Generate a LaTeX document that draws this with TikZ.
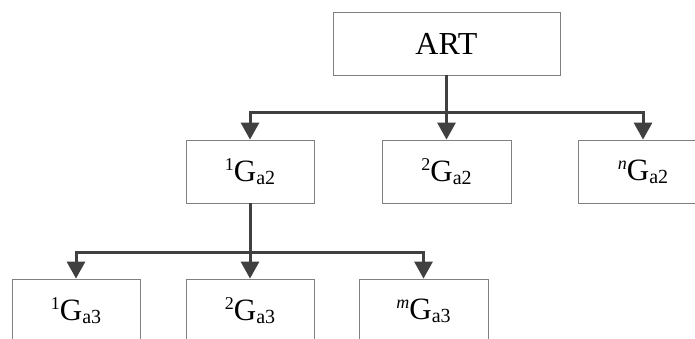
\documentclass[tikz,border=0pt]{standalone}
\usepackage{fontspec}
\setmainfont{Liberation Serif}
\usetikzlibrary{arrows.meta}
\newcommand\mysup[1]{\raisebox{11pt}{\fontsize{18}{18}\selectfont #1}}
\newcommand\mysub[1]{\raisebox{-3pt}{\fontsize{20}{20}\selectfont #1}}
\newcommand\lbl[3]{\raisebox{-#3pt}{\mysup{#1}G\mysub{a#2}}}
\begin{document}
\begin{tikzpicture}[x=1pt,y=-1pt,
  box/.style={draw=black!50,line width=0.8pt,fill=white,minimum height=63pt,inner sep=0pt,font=\fontsize{31}{31}\selectfont},
  conn/.style={draw=black!75,line width=3pt},
  arr/.style={-{Triangle[width=18pt,length=17pt]}}]
\useasboundingbox (0,0) rectangle (695,338);
\clip (0,0) rectangle (695,338);
\node[box,minimum width=227pt,font=\fontsize{32}{32}\selectfont] (art) at (446.5,43.5) {ART};
\node[box,minimum width=128pt] (g1a) at (250,171.5) {\lbl{1}{2}{3}};
\node[box,minimum width=129pt] (g2a) at (446.5,171.5) {\lbl{2}{2}{3}};
\node[box,minimum width=130pt] (gna) at (643,171.5) {\lbl{\textit{n}}{2}{3}};
\node[box,minimum width=128pt] (g1b) at (76,310.5) {\lbl{1}{3}{1}};
\node[box,minimum width=128pt] (g2b) at (250,310.5) {\lbl{2}{3}{1}};
\node[box,minimum width=129pt] (gmb) at (423.5,310.5) {\lbl{\textit{m}}{3}{1}};
\coordinate (b1) at (446.5,112);
\coordinate (b2) at (250,252);
\draw[conn,arr] (art.south) -- (g2a.north);
\draw[conn,arr] (b1) -| (g1a.north);
\draw[conn,arr] (b1) -| (gna.north);
\draw[conn,arr] (g1a.south) -- (g2b.north);
\draw[conn,arr] (b2) -| (g1b.north);
\draw[conn,arr] (b2) -| (gmb.north);
\end{tikzpicture}
\end{document}
